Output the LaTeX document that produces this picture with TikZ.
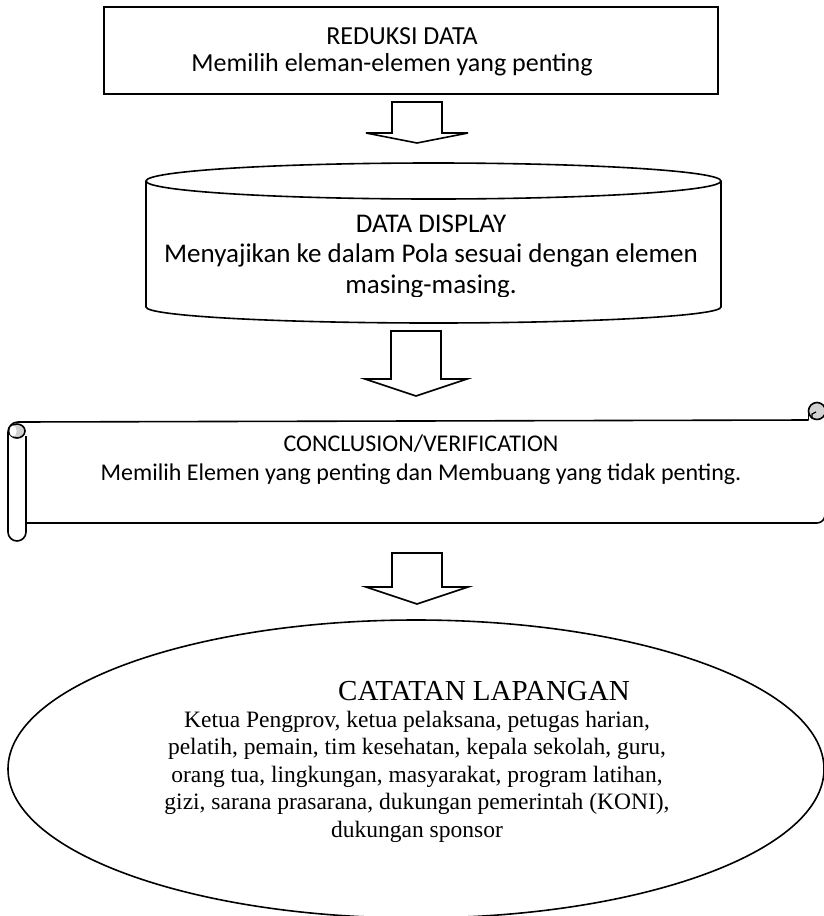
\documentclass[tikz,border=0pt]{standalone}
\usepackage{fontspec}
\setmainfont{Carlito}
\newfontfamily\notesfont{Liberation Serif}

% hollow block arrow pointing down: centre x, shaft top, head base, tip
\newcommand\downblock[4]{%
  \draw[outline,line join=miter]
    (#1-25,#2) -- (#1+25,#2) -- (#1+25,#3) -- (#1+51,#3) -- (#1,#4)
    -- (#1-51,#3) -- (#1-25,#3) -- cycle;}

\begin{document}
\begin{tikzpicture}[x=1pt,y=-1pt,
  outline/.style={draw=black,line width=1.6pt},
  label/.style={font=\fontsize{24}{29}\selectfont,inner sep=0pt,anchor=base},
  biglabel/.style={font=\fontsize{26}{31}\selectfont,inner sep=0pt,anchor=base},
  drumlabel/.style={font=\fontsize{27}{32}\selectfont,inner sep=0pt,anchor=base},
  notes/.style={font=\notesfont\fontsize{23.5}{27.5}\selectfont,inner sep=0pt,anchor=base},
  notestitle/.style={font=\notesfont\fontsize{29}{33}\selectfont,inner sep=0pt,anchor=base},
  curl/.style={outline,fill=black!18},
]
\useasboundingbox (0,0) rectangle (824,916);
\clip (0,0) rectangle (824,916);

% ---- data reduction box
\draw[outline] (104,7) rectangle (718,94);
\node[biglabel] (reduksi)  at (402,44) {REDUKSI DATA};
\node[biglabel] (reduksiB) at (392,71) {Memilih eleman-elemen yang penting};

\downblock{417}{102}{133}{143}

% ---- data display drum
\draw[outline] (433.5,181) ellipse[x radius=287.5, y radius=18];
\draw[outline] (146,181) -- (146,307)
  arc[start angle=180, end angle=0, x radius=287.5, y radius=16] -- (721,181);
\begin{scope}
  \clip (146,150) rectangle (721,296);
  \node[drumlabel] (display)  at (431,232) {DATA DISPLAY};
  \node[drumlabel] (displayB) at (431,262.5) {Menyajikan ke dalam Pola sesuai dengan elemen};
  \node[drumlabel] (displayC) at (431,293) {masing-masing.};
\end{scope}

\downblock{416}{331}{379}{396}

% ---- conclusion scroll
% body outline with the left roll
\draw[outline,line join=round]
  (8,432) arc[start angle=180, end angle=270, radius=10] -- (808.5,420);
\draw[outline,line join=round]
  (8,432) -- (8,532) arc[start angle=180, end angle=0, radius=9] -- (26,436);
\draw[outline] (26,523) -- (817,523) arc[start angle=90, end angle=0, radius=8] -- (825,400);
% top end of the left roll
\draw[curl] (17,431) ellipse[x radius=8, y radius=7];
\fill[white] (13,431) ellipse[x radius=3.6, y radius=5.6];
% curl at the top right
\draw[curl] (817,411) circle[radius=8.5];
\draw[outline] (808.5,411) -- (808.5,420);
\draw[line width=1.2pt] (812,419) -- (812,414) -- (816,412);
\node[label] (conclusion)  at (421,451) {CONCLUSION/VERIFICATION};
\node[label] (conclusionB) at (421,480) {Memilih Elemen yang penting dan Membuang yang tidak penting.};

\downblock{417}{553}{587}{604}

% ---- field notes ellipse
\draw[outline] (416,769) ellipse[x radius=408, y radius=149];
\node[notestitle] (catatan) at (484,700) {CATATAN LAPANGAN};
\node[notes] (catatanA) at (417,727)   {Ketua Pengprov, ketua pelaksana, petugas harian,};
\node[notes] (catatanB) at (417,754.5) {pelatih, pemain, tim kesehatan, kepala sekolah, guru,};
\node[notes] (catatanC) at (417,782)   {orang tua, lingkungan, masyarakat, program latihan,};
\node[notes] (catatanD) at (417,809.5) {gizi, sarana prasarana, dukungan pemerintah (KONI),};
\node[notes] (catatanE) at (417,837)   {dukungan sponsor};
\end{tikzpicture}
\end{document}
